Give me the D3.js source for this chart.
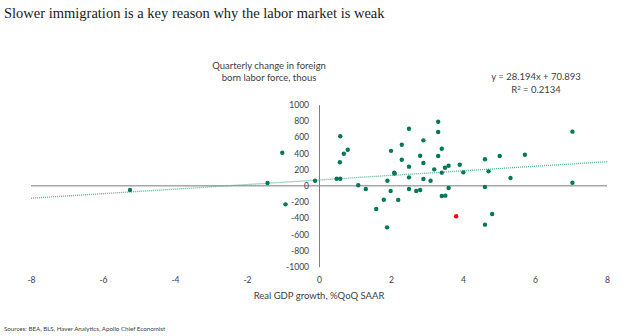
<!DOCTYPE html>
<html>
<head>
<meta charset="utf-8">
<script src="https://cdn.jsdelivr.net/npm/d3@7"></script>
<style>
  body { margin: 0; background: #fff; }
  svg text { font-family: Lato, "Open Sans", sans-serif; fill: #404040; }
  .title { font-family: "Liberation Serif", "DejaVu Serif", serif; fill: #1a1a1a; }
</style>
</head>
<body>
<div id="chart"></div>
<script>
// real GDP growth (%QoQ SAAR) and quarterly change in foreign born labor force (thous)
var gdp = [-5.25, -1.43, -1.02, -0.93, -0.11,
           0.49, 0.59, 0.59, 0.58, 0.69, 0.80,
           1.09, 1.30, 1.59, 1.80, 1.89, 1.90, 1.99, 2.00, 2.09, 2.10, 2.20,
           2.30, 2.30, 2.50, 2.50, 2.50, 2.50, 2.70, 2.81, 2.81, 2.90, 2.90, 2.90,
           3.10, 3.20, 3.31, 3.31, 3.31, 3.41, 3.41, 3.41, 3.51, 3.50, 3.60, 3.60,
           3.81, 3.91, 4.01, 4.61, 4.61, 4.61, 4.71, 4.81, 5.02, 5.32, 5.72, 7.04, 7.04];
var laborForce = [-53, 33, 407, -230, 62,
           86, 86, 610, 289, 395, 444,
           5, -41, -288, -173, -514, 62, -65, 430, 160, 150, -175,
           506, 321, 704, 235, 103, -41, -65, -53, 370, 560, 280, 83,
           62, 202, 790, 663, 367, 457, 161, -127, -123, 222, 247, -28,
           -378, 259, 165, 326, -16, -481, 177, -349, 367, 95, 383, 667, 37];
var latestIndex = 46; // red point

var xTicks = [-8, -6, -4, -2, 0, 2, 4, 6, 8];
var yTicks = [-1000, -800, -600, -400, -200, 0, 200, 400, 600, 800, 1000];
var slope = 28.194, intercept = 70.893;

var width = 624, height = 336;

var svg = d3.select("#chart").append("svg")
    .attr("width", width)
    .attr("height", height);

var x = d3.scaleLinear().domain([-8, 8]).range([31, 607]);
var y = d3.scaleLinear().domain([-1000, 1000]).range([266.7, 104.7]);

// plain hyphen minus like the original
var plain = function(d) { return String(d); };

// title
svg.append("text")
    .attr("class", "title")
    .attr("x", 4)
    .attr("y", 18)
    .style("font-size", "14.5px")
    .text("Slower immigration is a key reason why the labor market is weak");

// y axis title
svg.append("text")
    .attr("text-anchor", "middle")
    .attr("x", 269)
    .attr("y", 68.5)
    .style("font-size", "9.5px")
    .text("Quarterly change in foreign");
svg.append("text")
    .attr("text-anchor", "middle")
    .attr("x", 269)
    .attr("y", 81)
    .style("font-size", "9.5px")
    .text("born labor force, thous");

// zero line
svg.append("line")
    .attr("x1", x(-8)).attr("x2", x(8))
    .attr("y1", y(0)).attr("y2", y(0))
    .attr("stroke", "#a6a6a6")
    .attr("stroke-width", 1.5);

// y axis
var yAxis = svg.append("g")
    .attr("transform", "translate(" + x(0) + ",0)")
    .call(d3.axisLeft(y).tickValues(yTicks).tickFormat(plain).tickSize(0).tickPadding(10));
yAxis.select(".domain").attr("stroke", "#7f7f7f");
yAxis.selectAll("text")
    .style("font-family", "Lato, sans-serif")
    .style("font-size", "8.5px")
    .attr("fill", "#404040");

// x axis labels
var xAxis = svg.append("g")
    .attr("transform", "translate(0,273)")
    .call(d3.axisBottom(x).tickValues(xTicks).tickFormat(plain).tickSize(0).tickPadding(4));
xAxis.select(".domain").remove();
xAxis.selectAll("text")
    .style("font-family", "Lato, sans-serif")
    .style("font-size", "8.5px")
    .attr("fill", "#404040");

svg.append("text")
    .attr("text-anchor", "middle")
    .attr("x", x(0))
    .attr("y", 299)
    .style("font-size", "9.5px")
    .text("Real GDP growth, %QoQ SAAR");

// trend line
svg.append("line")
    .attr("x1", x(-8)).attr("y1", y(slope * -8 + intercept))
    .attr("x2", x(8)).attr("y2", y(slope * 8 + intercept))
    .attr("stroke", "#4fb090")
    .attr("stroke-width", 1.3)
    .attr("stroke-dasharray", "1,1");

// points
var pts = gdp.map(function(d, i) { return {x: d, y: laborForce[i], latest: i === latestIndex}; });
svg.append("g")
  .selectAll("circle")
    .data(pts)
  .enter().append("circle")
    .attr("cx", function(d) { return x(d.x); })
    .attr("cy", function(d) { return y(d.y); })
    .attr("r", 2.2)
    .attr("fill", function(d) { return d.latest ? "#ff0000" : "#00785a"; });

// equation
svg.append("text")
    .attr("text-anchor", "middle")
    .attr("x", 536)
    .attr("y", 80)
    .style("font-size", "9.5px")
    .text("y = 28.194x + 70.893");
var r2 = svg.append("text")
    .attr("text-anchor", "middle")
    .attr("x", 536)
    .attr("y", 92.5)
    .style("font-size", "9.5px");
r2.append("tspan").text("R");
r2.append("tspan").attr("dy", -3).style("font-size", "6px").text("2");
r2.append("tspan").attr("dy", 3).text(" = 0.2134");

// sources
svg.append("text")
    .attr("x", 4)
    .attr("y", 331)
    .style("font-size", "6.2px")
    .attr("fill", "#595959")
    .text("Sources: BEA, BLS, Haver Analytics, Apollo Chief Economist");
</script>
</body>
</html>
